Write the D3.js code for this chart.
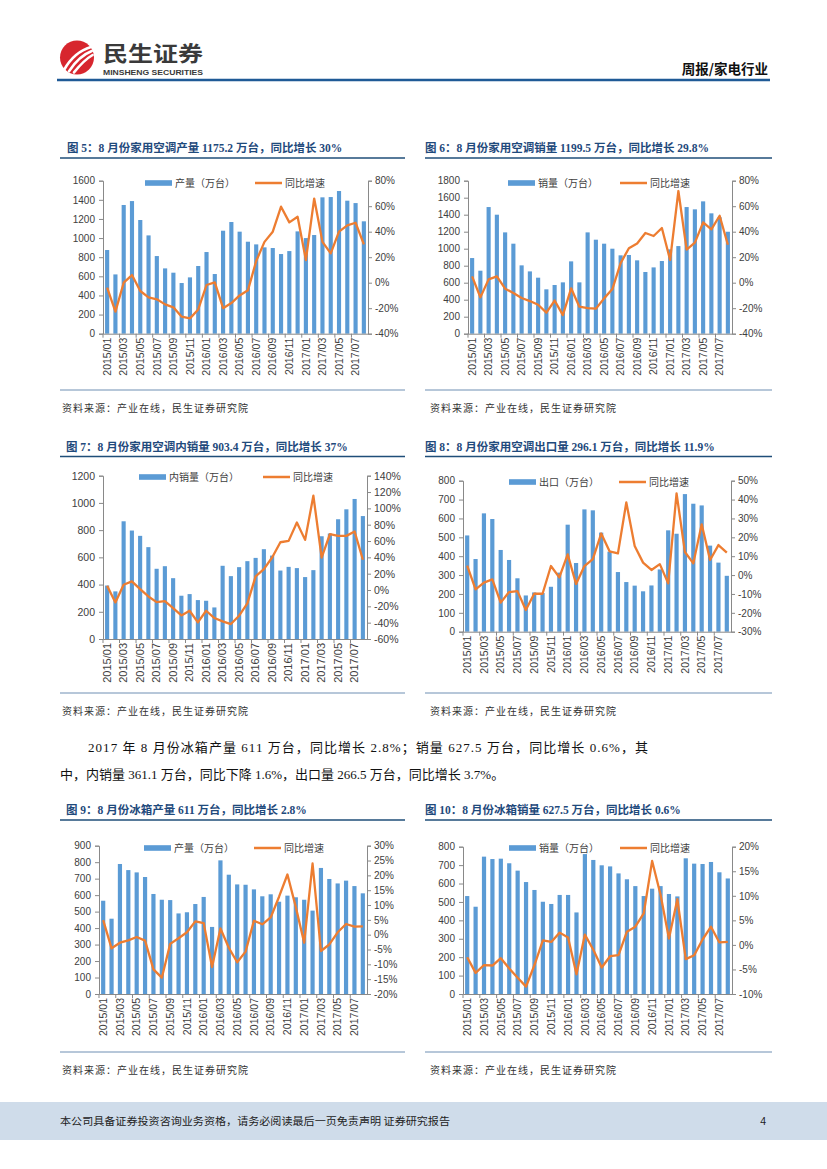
<!DOCTYPE html>
<html>
<head>
<meta charset="utf-8">
<script src="https://cdn.jsdelivr.net/npm/d3@7"></script>
<style>
  body { margin: 0; background: #fff; }
  svg { display: block; }
</style>
</head>
<body>
<svg width="827" height="1169"></svg>
<script>
var svg = d3.select("svg");

var barColor = "#5b9bd5";
var lineColor = "#ed7d31";
var axisColor = "#898989";
var textColor = "#404040";
var titleColor = "#1f4a7c";
var cjk = "'Noto Sans CJK SC', sans-serif";
var latin = "'Liberation Sans', Arial, sans-serif";

// categories
var months = ["2015/01","2015/02","2015/03","2015/04","2015/05","2015/06","2015/07","2015/08",
  "2015/09","2015/10","2015/11","2015/12","2016/01","2016/02","2016/03","2016/04","2016/05",
  "2016/06","2016/07","2016/08","2016/09","2016/10","2016/11","2016/12","2017/01","2017/02",
  "2017/03","2017/04","2017/05","2017/06","2017/07","2017/08"];

// 图5 空调产量
var acProdBars = [875,620,1346,1387,1189,1028,812,683,638,530,589,708,854,624,1077,1168,1067,962,934,903,896,833,864,1070,1000,1032,1426,1429,1492,1391,1366,1175.2];
var acProdYoy = [-3.9,-22.7,0,6,-6.5,-11.5,-13,-17,-19.3,-26.7,-28,-21,-1.8,0.3,-20,-16,-10,-6,17,32,40,59.6,47.3,51.7,17.8,66,32,23,40,45,47,30];

// 图6 空调销量
var acSalesBars = [890,741,1490,1400,1192,1059,804,733,659,522,573,604,851,604,1192,1106,1059,1000,922,926,863,726,780,855,992,1031,1490,1463,1557,1416,1370,1199.5];
var acSalesYoy = [5,-11.5,2.6,5,-4.7,-8,-12,-14.4,-17.3,-23.5,-14,-25.4,-4.4,-18.8,-19.9,-20.4,-12.3,-5,15.4,27,30.8,39,36.6,42.9,17.8,71.9,26,31.4,47.3,41.8,52.5,29.8];

// 图7 空调内销
var acDomBars = [393,350,865,797,758,675,516,535,447,318,330,286,281,232,538,462,528,572,596,660,613,503,530,521,455,506,755,775,880,953,1029,903.4];
var acDomYoy = [5.2,-15.2,6.4,10.5,1,-7.9,-14.8,-13.6,-22.1,-31.1,-25.4,-39.6,-25.4,-34.3,-38.4,-41.7,-31.5,-16.4,16.6,25.5,39.8,58.5,60.2,82.6,61.4,115.5,39.8,68.3,66.3,66.3,71.6,37];

// 图8 空调出口
var acExpBars = [510,385,627,597,433,380,283,192,208,205,238,313,567,364,648,643,525,424,316,263,244,214,245,330,537,519,729,678,669,456,366,296.1];
var acExpYoy = [5,-7.6,-4,-2.3,-14.6,-9,-8.5,-18.5,-9.9,-9.9,4.8,-1.2,11,-4.7,4.8,8.5,22,12.6,11.5,38.5,15.4,6.6,2.7,5.8,-4.4,43.3,12.2,6.2,26.9,8,15.9,11.9];

// 图9 冰箱产量
var frProdBars = [566,457,789,752,738,710,607,572,570,489,496,546,589,407,811,724,665,663,635,593,605,560,597,587,572,506,765,698,671,688,655,611];
var frProdYoy = [4.9,-4.6,-2.7,-1.9,-0.8,-2,-11.7,-14.5,-3.1,-1.2,0.8,4.5,3.9,-10.9,2.1,-4.4,-9.3,-5.7,4.7,3.5,5.8,12.8,20.3,9.3,-2.7,24,-5.5,-3.3,0.8,3.6,2.7,2.8];

// 图10 冰箱销量
var frSalesBars = [532,474,746,733,735,710,670,608,565,501,489,538,538,443,760,728,699,693,655,623,586,532,572,586,543,530,737,708,706,717,661,627.5];
var frSalesYoy = [-2.5,-5.7,-4.1,-4.2,-2.7,-4.8,-6.7,-8.5,-4.1,0.9,0.6,2.5,1.5,-6,2.1,-1,-4.6,-2.3,-2.1,2.7,3.7,6.4,17.1,10.2,1.3,9.3,-2.9,-2.1,1.1,3.7,0.5,0.6];

var titles = [
  "图 5：8 月份家用空调产量 1175.2 万台，同比增长 30%",
  "图 6：8 月份家用空调销量 1199.5 万台，同比增长 29.8%",
  "图 7：8 月份家用空调内销量 903.4 万台，同比增长 37%",
  "图 8：8 月份家用空调出口量 296.1 万台，同比增长 11.9%",
  "图 9：8 月份冰箱产量 611 万台，同比增长 2.8%",
  "图 10：8 月份冰箱销量 627.5 万台，同比增长 0.6%"
];
var barNames = ["产量（万台）","销量（万台）","内销量（万台）","出口（万台）","产量（万台）","销量（万台）"];
var lineName = "同比增速";
var sourceText = "资料来源：产业在线，民生证券研究院";

// ---------- header ----------
var logo = svg.append("g");
logo.append("circle").attr("cx", 77).attr("cy", 57.5).attr("r", 17).attr("fill", "#d7262e");
[[0, 0], [5, 4], [10, 8]].forEach(function (o) {
  logo.append("path")
    .attr("d", "M" + (64 + o[0]) + "," + (70 + o[1] * 0.3) + " Q" + (74 + o[0]) + "," + (52 + o[1]) + " " + (91 + o[1] * 0.2) + "," + (47 + o[1]))
    .attr("fill", "none").attr("stroke", "#fff").attr("stroke-width", 2.6).attr("stroke-linecap", "round");
});
svg.append("text").attr("x", 103).attr("y", 61).attr("textLength", 100).attr("lengthAdjust", "spacingAndGlyphs")
  .style("font-family", cjk).style("font-weight", "bold").style("font-size", "21px").style("fill", "#3a3a3a")
  .text("民生证券");
svg.append("text").attr("x", 103).attr("y", 75).attr("textLength", 100).attr("lengthAdjust", "spacingAndGlyphs")
  .style("font-family", latin).style("font-weight", "bold").style("font-size", "8px").style("fill", "#3a3a3a")
  .text("MINSHENG SECURITIES");
svg.append("text").attr("x", 768).attr("y", 74).attr("text-anchor", "end")
  .style("font-family", cjk).style("font-weight", "bold").style("font-size", "13.5px").style("fill", "#111")
  .text("周报/家电行业");
svg.append("line").attr("x1", 57).attr("x2", 770).attr("y1", 80).attr("y2", 80)
  .attr("stroke", "#1f5a96").attr("stroke-width", 2.5);

// ---------- footer ----------
svg.append("rect").attr("x", 0).attr("y", 1102).attr("width", 827).attr("height", 38).attr("fill", "#cfdcea");
svg.append("text").attr("x", 60).attr("y", 1125).attr("textLength", 390).attr("lengthAdjust", "spacingAndGlyphs")
  .style("font-family", cjk).style("font-size", "10.5px").style("fill", "#222")
  .text("本公司具备证券投资咨询业务资格，请务必阅读最后一页免责声明 证券研究报告");
svg.append("text").attr("x", 766).attr("y", 1125).attr("text-anchor", "end")
  .style("font-family", latin).style("font-size", "10.5px").style("fill", "#222").text("4");

// ---------- paragraph ----------
var para = svg.append("g").style("font-family", "'Liberation Serif', " + cjk).style("font-size", "13px").style("fill", "#111");
para.append("text").attr("x", 88).attr("y", 752).attr("textLength", 560).attr("lengthAdjust", "spacing")
  .text("2017 年 8 月份冰箱产量 611 万台，同比增长 2.8%；销量 627.5 万台，同比增长 0.6%，其");
para.append("text").attr("x", 60).attr("y", 779)
  .text("中，内销量 361.1 万台，同比下降 1.6%，出口量 266.5 万台，同比增长 3.7%。");

// ---------- charts ----------
function drawChart(c) {
  var g = svg.append("g");

  // title + rules
  g.append("text").attr("x", c.titleX).attr("y", c.titleY)
    .style("font-family", "'Liberation Serif', " + cjk).style("font-weight", "bold")
    .style("font-size", "11.5px").style("fill", titleColor).text(c.title);
  g.append("line").attr("x1", c.ruleX0).attr("x2", c.ruleX1).attr("y1", c.titleY + 6).attr("y2", c.titleY + 6)
    .attr("stroke", "#1f4e79").attr("stroke-width", 1.5);
  g.append("line").attr("x1", c.ruleX0).attr("x2", c.ruleX1).attr("y1", c.sepY).attr("y2", c.sepY)
    .attr("stroke", "#6f8fb3").attr("stroke-width", 1);
  g.append("text").attr("x", c.srcX).attr("y", c.sepY + 22)
    .style("font-family", cjk).style("font-size", "10px").style("letter-spacing", "1px").style("fill", "#333")
    .text(sourceText);

  var x = d3.scaleBand().domain(months).range([c.left, c.right]).paddingInner(0.5).paddingOuter(0.25);
  var y = d3.scaleLinear().domain([0, c.leftMax]).range([c.bottom, c.top]);
  var y2 = d3.scaleLinear().domain(c.rightDomain).range([c.bottom, c.top]);

  g.selectAll(".bar").data(c.bars).enter().append("rect")
    .attr("x", function (d, i) { return x(months[i]); })
    .attr("y", function (d) { return y(d); })
    .attr("width", x.bandwidth())
    .attr("height", function (d) { return c.bottom - y(d); })
    .attr("fill", barColor);

  // axes
  var ya = g.append("g").attr("transform", "translate(" + c.left + ",0)")
    .call(d3.axisLeft(y).tickValues(d3.range(0, c.leftMax + 1, c.leftStep)).tickSize(4).tickPadding(4).tickFormat(d3.format("d")));
  var yb = g.append("g").attr("transform", "translate(" + c.right + ",0)")
    .call(d3.axisRight(y2).tickValues(d3.range(c.rightDomain[0], c.rightDomain[1] + 0.1, c.rightStep)).tickSize(4).tickPadding(3)
      .tickFormat(function (d) { return d + "%"; }));
  var xa = g.append("g").attr("transform", "translate(0," + c.bottom + ")")
    .call(d3.axisBottom(x).tickValues(months.filter(function (m, i) { return i % 2 === 0; })).tickSize(0));
  xa.selectAll("text")
    .attr("transform", "rotate(-90)").attr("x", -4).attr("y", 0).attr("dy", "0.35em")
    .attr("text-anchor", "end").style("font-size", c.xFont + "px");
  // category tick marks every two months
  g.selectAll(".xt").data(months.filter(function (m, i) { return i % 2 === 0; })).enter().append("line")
    .attr("x1", function (d) { return x(d) - x.step() * 0.25; })
    .attr("x2", function (d) { return x(d) - x.step() * 0.25; })
    .attr("y1", c.bottom).attr("y2", c.bottom + 4)
    .attr("stroke", axisColor);

  [ya, yb, xa].forEach(function (a) {
    a.select(".domain").attr("stroke", axisColor);
    a.selectAll(".tick line").attr("stroke", axisColor);
    a.selectAll("text").style("font-family", latin).style("fill", textColor);
  });
  ya.selectAll("text").style("font-size", c.yFont + "px");
  yb.selectAll("text").style("font-size", c.yFont + "px");

  // yoy line
  var line = d3.line()
    .x(function (d, i) { return x(months[i]) + x.bandwidth() / 2; })
    .y(function (d) { return y2(d); });
  g.append("path").datum(c.yoy).attr("d", line)
    .attr("fill", "none").attr("stroke", lineColor).attr("stroke-width", 2.3).attr("stroke-linejoin", "round");

  // legend
  var lg = g.append("g").attr("transform", "translate(" + c.legX + "," + c.legY + ")");
  lg.append("rect").attr("x", 0).attr("y", -2.8).attr("width", 27).attr("height", 5.6).attr("fill", barColor);
  lg.append("text").attr("x", 30).attr("y", 0).attr("dy", "0.36em")
    .style("font-family", cjk).style("font-size", "10px").style("fill", textColor).text(c.barName);
  lg.append("line").attr("x1", c.legGap).attr("x2", c.legGap + 27).attr("y1", 0).attr("y2", 0)
    .attr("stroke", lineColor).attr("stroke-width", 2.5);
  lg.append("text").attr("x", c.legGap + 30).attr("y", 0).attr("dy", "0.36em")
    .style("font-family", cjk).style("font-size", "10px").style("fill", textColor).text(lineName);
}

drawChart({ title: titles[0], titleX: 67, titleY: 152, ruleX0: 60, ruleX1: 405, sepY: 390, srcX: 62,
  left: 103, right: 368, top: 180.7, bottom: 333.7, leftMax: 1600, leftStep: 200,
  rightDomain: [-40, 80], rightStep: 20, bars: acProdBars, yoy: acProdYoy,
  barName: barNames[0], legX: 145, legY: 183, legGap: 110, yFont: 10, xFont: 10.5 });

drawChart({ title: titles[1], titleX: 425, titleY: 152, ruleX0: 425, ruleX1: 772, sepY: 390, srcX: 430,
  left: 468, right: 732, top: 180.7, bottom: 333.7, leftMax: 1800, leftStep: 200,
  rightDomain: [-40, 80], rightStep: 20, bars: acSalesBars, yoy: acSalesYoy,
  barName: barNames[1], legX: 508, legY: 183, legGap: 112, yFont: 10, xFont: 10.5 });

drawChart({ title: titles[2], titleX: 66, titleY: 450.5, ruleX0: 60, ruleX1: 405, sepY: 693, srcX: 62,
  left: 103, right: 367, top: 475.7, bottom: 639, leftMax: 1200, leftStep: 200,
  rightDomain: [-60, 140], rightStep: 20, bars: acDomBars, yoy: acDomYoy,
  barName: barNames[2], legX: 139, legY: 477, legGap: 124, yFont: 10.5, xFont: 11 });

drawChart({ title: titles[3], titleX: 425, titleY: 450.5, ruleX0: 425, ruleX1: 772, sepY: 693, srcX: 430,
  left: 463, right: 731, top: 480.7, bottom: 631.7, leftMax: 800, leftStep: 100,
  rightDomain: [-30, 50], rightStep: 10, bars: acExpBars, yoy: acExpYoy,
  barName: barNames[3], legX: 509, legY: 482, legGap: 110, yFont: 10, xFont: 10.5 });

drawChart({ title: titles[4], titleX: 66, titleY: 814, ruleX0: 60, ruleX1: 405, sepY: 1052, srcX: 62,
  left: 99, right: 367, top: 845.7, bottom: 994, leftMax: 900, leftStep: 100,
  rightDomain: [-20, 30], rightStep: 5, bars: frProdBars, yoy: frProdYoy,
  barName: barNames[4], legX: 144, legY: 848, legGap: 110, yFont: 10, xFont: 10.5 });

drawChart({ title: titles[5], titleX: 425, titleY: 814, ruleX0: 425, ruleX1: 772, sepY: 1052, srcX: 430,
  left: 463, right: 732, top: 846.7, bottom: 994, leftMax: 800, leftStep: 100,
  rightDomain: [-10, 20], rightStep: 5, bars: frSalesBars, yoy: frSalesYoy,
  barName: barNames[5], legX: 509, legY: 848, legGap: 111, yFont: 10, xFont: 10.5 });
</script>
</body>
</html>
